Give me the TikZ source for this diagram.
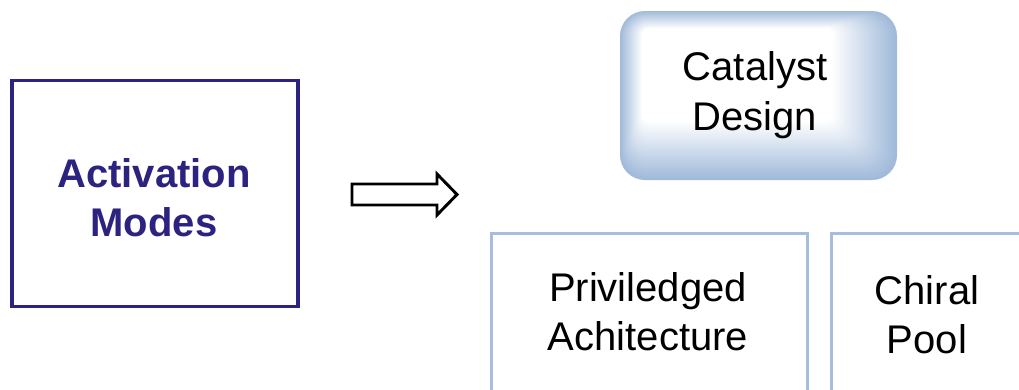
\documentclass[tikz,border=0pt]{standalone}
\usepackage{fontspec}
\setmainfont{Liberation Sans}
\definecolor{indigo}{RGB}{44,34,128}
\definecolor{paleblue}{RGB}{166,190,220}
\definecolor{catblue}{RGB}{160,186,218}
\begin{document}
\begin{tikzpicture}[x=0.75pt,y=-0.75pt,
  bigtext/.style={font=\fontsize{30}{37}\selectfont, align=center, inner sep=0pt},
  modebox/.style={draw=indigo, line width=2.4pt, minimum width=214.5pt, minimum height=170pt, inner sep=0pt},
  subbox/.style={draw=paleblue, line width=2.2pt, inner sep=0pt}]
\clip (0,0) rectangle (1019,389);
\fill[white] (0,0) rectangle (1019,389);
% Activation Modes
\node[modebox] (modes) at (155,193.5) {};
\node[bigtext, text=indigo, font=\fontsize{30}{37}\selectfont\bfseries] (modest) at (154,198) {Activation\\Modes};
% block arrow
\draw[line width=2.2pt, line join=miter, fill=white]
  (352,184) -- (437,184) -- (437,174) -- (457,194.5) -- (437,215) -- (437,205) -- (352,205) -- cycle;
% Catalyst Design glow box
\foreach \i in {0,...,29}{
  \pgfmathsetmacro{\p}{100-\i*100/29}
  \fill[catblue!\p!white, rounded corners={max(4,25-\i*0.6)*0.75pt}]
    (620+\i*0.75, 11+\i*0.6) rectangle (897-\i*2.2, 180-\i*2.0);
}
\node[bigtext] (cat) at (755,95) {Catalyst\\Design};
% bottom boxes
\node[subbox, minimum width=237pt, minimum height=180pt, anchor=north west] (priv) at (490,232) {};
\node[bigtext] (privt) at (648,312) {Priviledged\\Achitecture};
\node[subbox, minimum width=200pt, minimum height=180pt, anchor=north west] (chiral) at (830,232) {};
\node[bigtext] (chiralt) at (927,315) {Chiral\\Pool};
\end{tikzpicture}
\end{document}
